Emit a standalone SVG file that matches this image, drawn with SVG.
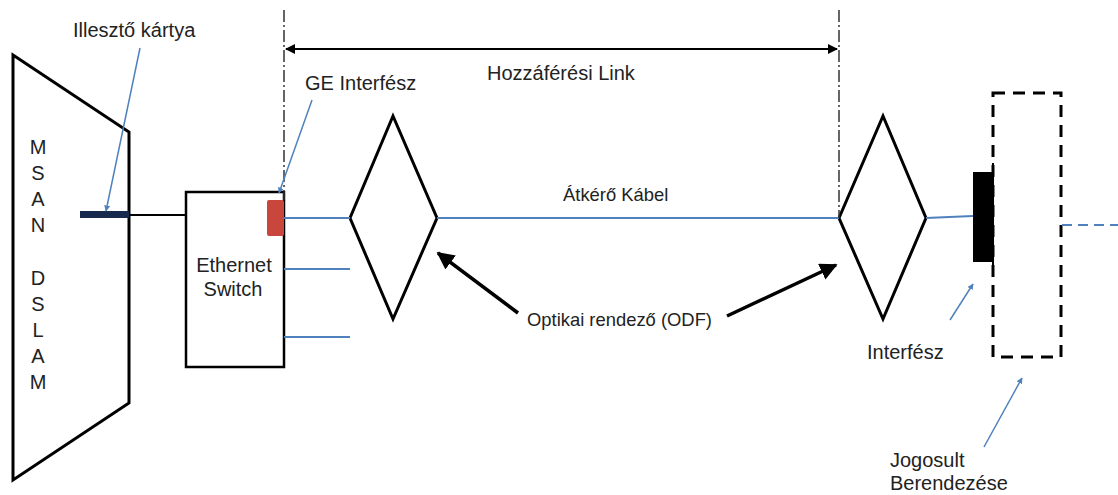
<svg xmlns="http://www.w3.org/2000/svg" width="1118" height="495" viewBox="0 0 1118 495">
<style>
text{font-family:"Liberation Sans",Arial,sans-serif;font-size:20px;fill:#222}
.sm{font-size:18.4px}
.blk{fill:none;stroke:#000;stroke-width:3;stroke-linejoin:miter}
.blue{fill:none;stroke:#4f81bd;stroke-width:2}
.call{fill:none;stroke:#4f81bd;stroke-width:1.5}
.dd{fill:none;stroke:#333;stroke-width:1.5;stroke-dasharray:12 3 2 3}
.thick{fill:none;stroke:#000;stroke-width:3.5}
</style>
<defs>
<marker id="ab" viewBox="0 0 10 10" refX="9" refY="5" markerWidth="6" markerHeight="6" markerUnits="userSpaceOnUse" orient="auto"><path d="M0,0 L10,5 L0,10 z" fill="#4f81bd"/></marker>
<marker id="ak" viewBox="0 0 10 10" refX="9" refY="5" markerWidth="5" markerHeight="5" orient="auto"><path d="M0,0 L10,5 L0,10 z" fill="#000"/></marker>
<marker id="ad" viewBox="0 0 10 10" refX="9" refY="5" markerWidth="12" markerHeight="10" markerUnits="userSpaceOnUse" orient="auto-start-reverse"><path d="M0,0 L10,5 L0,10 z" fill="#000"/></marker>
</defs>

<g id="msan">
<path class="blk" d="M13,55 L129,132 L129,403 L13,480 Z"/>
<text x="38" y="154" text-anchor="middle">M</text>
<text x="38" y="180" text-anchor="middle">S</text>
<text x="38" y="206" text-anchor="middle">A</text>
<text x="38" y="232" text-anchor="middle">N</text>
<text x="38" y="285" text-anchor="middle">D</text>
<text x="38" y="311" text-anchor="middle">S</text>
<text x="38" y="337" text-anchor="middle">L</text>
<text x="38" y="363" text-anchor="middle">A</text>
<text x="38" y="389" text-anchor="middle">M</text>
</g>

<g id="card">
<rect x="80" y="211" width="49" height="7" fill="#17294d"/>
<text x="73" y="37">Illesztő kártya</text>
</g>

<g id="switch">
<rect x="186" y="192" width="98" height="175" fill="none" stroke="#000" stroke-width="2.5"/>
<text x="234" y="272" text-anchor="middle">Ethernet</text>
<text x="233" y="296" text-anchor="middle">Switch</text>
</g>

<g id="ge-port">
<rect x="267" y="200" width="17" height="36" rx="2" fill="#c9463d"/>
<text x="305" y="90">GE Interfész</text>
</g>

<g id="odf-left">
<path class="blk" d="M350,218 L393,116 L437,218 L393,319 Z"/>
</g>

<g id="odf-right">
<path class="blk" d="M839,218 L883,116 L926,218 L883,319 Z"/>
</g>

<g id="interface">
<rect x="973" y="172" width="20" height="90" fill="#000"/>
<line x1="993" y1="163" x2="993" y2="268" stroke="#000" stroke-width="2"/>
<text x="867" y="359">Interfész</text>
</g>

<g id="equipment">
<rect x="993" y="93" width="68" height="264" fill="none" stroke="#000" stroke-width="3" stroke-dasharray="12 8"/>
<text x="890" y="467">Jogosult</text>
<text x="890" y="490">Berendezése</text>
</g>

<g id="labels">
<text x="487" y="80">Hozzáférési Link</text>
<text class="sm" x="563" y="201">Átkérő Kábel</text>
<text class="sm" x="527" y="326">Optikai rendező (ODF)</text>
</g>

<g id="connectors">
<line x1="129" y1="215" x2="186" y2="215" stroke="#000" stroke-width="2"/>
<line class="blue" x1="284" y1="218" x2="350" y2="218"/>
<line class="blue" x1="284" y1="269" x2="350" y2="269"/>
<line class="blue" x1="284" y1="337" x2="350" y2="337"/>
<line class="blue" x1="437" y1="218" x2="839" y2="218"/>
<line class="blue" x1="926" y1="218" x2="973" y2="216"/>
<line class="blue" x1="1062" y1="225" x2="1118" y2="225" stroke-dasharray="10 6"/>
<line class="dd" x1="284" y1="10" x2="284" y2="200"/>
<line class="dd" x1="839" y1="10" x2="839" y2="218"/>
<line x1="286" y1="49" x2="837" y2="49" stroke="#000" stroke-width="2" marker-start="url(#ad)" marker-end="url(#ad)"/>
<line class="call" x1="140" y1="48" x2="106" y2="211" marker-end="url(#ab)"/>
<line class="call" x1="312" y1="100" x2="279" y2="193" marker-end="url(#ab)"/>
<line class="call" x1="950" y1="320" x2="973" y2="284" marker-end="url(#ab)"/>
<line class="call" x1="984" y1="447" x2="1022" y2="378" marker-end="url(#ab)"/>
<line class="thick" x1="518" y1="313" x2="438" y2="253" marker-end="url(#ak)"/>
<line class="thick" x1="727" y1="316" x2="836" y2="265" marker-end="url(#ak)"/>
</g>
</svg>
